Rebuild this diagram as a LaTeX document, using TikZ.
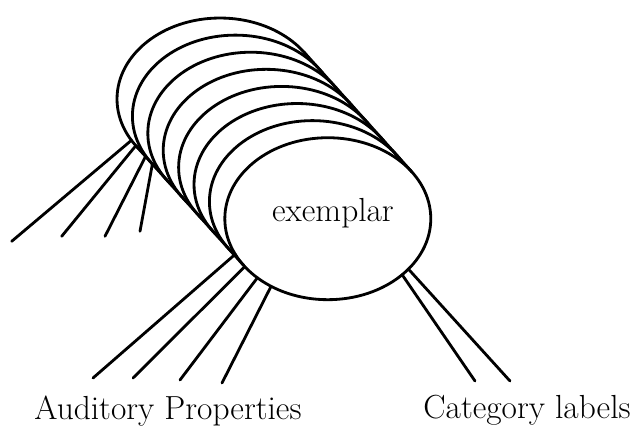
\documentclass[tikz,border=0pt]{standalone}
\usepackage{tikz}
\usetikzlibrary{
	shapes.geometric,
	calc
}

\begin{document}
\begin{tikzpicture}[x=0.02cm, y=-0.02cm,
				layer/.style={
					ellipse, draw, fill=white, line width=1.6pt,
					minimum width=4.12cm, minimum height=3.24cm,
					inner sep=0pt, outer sep=0pt
				},
				wire/.style={line width=1.6pt, line cap=round},
				txt/.style={
					inner sep=0pt, anchor=base,
					font=\fontsize{19}{22}\selectfont
				},
				]
				\useasboundingbox (0,0) rectangle (633,427);
				
				%stack of exemplars, back to front
				\foreach \i in {0,...,7}
					\node[layer] (e\i) at ({220+15.4*\i},{99+17.1*\i}) {};
				\node[txt] (exlabel) at (333,221) {exemplar};
				
				%sides of the stack
				\draw[wire] (e0.29.1) -- (e7.29.1);
				\draw[wire] (e0.209.1) -- (e7.209.1);
				
				%free ends
				\coordinate (a1) at (11.7,241.3);
				\coordinate (a2) at (61.7,236.3);
				\coordinate (a3) at (105,236.3);
				\coordinate (a4) at (140,231.3);
				\coordinate (b1) at (93,378);
				\coordinate (b2) at (133,378);
				\coordinate (b3) at (180,380);
				\coordinate (b4) at (222,383);
				\coordinate (c1) at (475,381);
				\coordinate (c2) at (510,381);
				
				%auditory properties
				\draw[wire] (e0.205) -- (a1);
				\draw[wire] (e0.209.5) -- (a2);
				\draw[wire] (e1.204) -- (a3);
				\draw[wire] (e1.210) -- (a4);
				\draw[wire] (e7.201) -- (b1);
				\draw[wire] (e7.210) -- (b2);
				\draw[wire] (e7.220) -- (b3);
				\draw[wire] (e7.230) -- (b4);
				
				%category labels
				\draw[wire] (e7.323) -- (c1);
				\draw[wire] (e7.328) -- (c2);
				
				\node[txt] (audprops) at (168,419.7) {Auditory Properties};
				\node[txt] (catlabels) at (527,418) {Category labels};
			\end{tikzpicture}
\end{document}
